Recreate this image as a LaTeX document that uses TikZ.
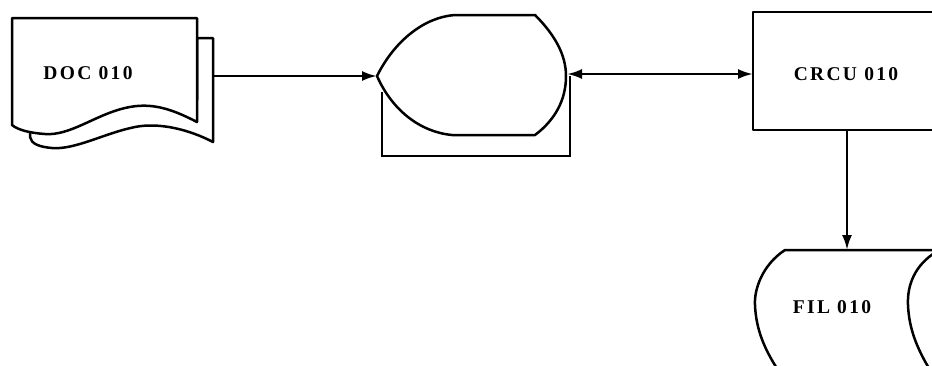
\documentclass[tikz,border=0pt]{standalone}
\usepackage{fontspec}
\setmainfont{Liberation Serif}
\usetikzlibrary{arrows.meta}
\begin{document}
\begin{tikzpicture}[x=1pt,y=-1pt,
  shp/.style={line width=2.5pt,fill=white,line join=round},
  con/.style={line width=2.5pt},
  tip/.style={-{Latex[length=15pt,width=10pt]}},
  lbl/.style={font=\fontsize{19.5}{22}\selectfont\bfseries\addfontfeature{LetterSpace=12}}]
\useasboundingbox (0,0) rectangle (932,365);
\clip (0,0) rectangle (932,365);
% document (two sheets)
\draw[shp] (197,38) -- (213,38) -- (213,142)
  .. controls (190,130) and (160,122) .. (135,127)
  .. controls (105,133) and (75,150) .. (52,148)
  .. controls (40,147) and (31,144) .. (30,137) -- (30,100) -- (197,100) -- cycle;
\draw[shp] (12,18) -- (197,18) -- (197,122)
  .. controls (170,108) and (150,102) .. (125,108)
  .. controls (95,115) and (70,136) .. (45,134)
  .. controls (30,133) and (18,130) .. (12,125) -- cycle;
\node[lbl] (doc) at (88,73) {DOC 010};
\coordinate (docout) at (213,76);
% display with offset sheet
\draw[con] (382,92) -- (382,156) -- (570,156) -- (570,76);
\draw[shp] (377,76) .. controls (395,40) and (425,17) .. (455,15) -- (535,15)
  .. controls (555,35) and (566,55) .. (566,76)
  .. controls (566,100) and (555,120) .. (535,135) -- (452,135)
  .. controls (420,132) and (392,110) .. (377,76) -- cycle;
\coordinate (dispin) at (377,76);
\coordinate (dispout) at (567,74);
% CRCU box
\draw[shp] (940,12) -- (753,12) -- (753,130) -- (940,130);
\coordinate (crcuin) at (753,74);
\coordinate (crcuout) at (847,130);
\node[lbl] (crcu) at (846,74) {CRCU 010};
% FIL storage
\draw[shp] (940,250) -- (785,250)
  .. controls (762,265) and (754,290) .. (755,305)
  .. controls (756,330) and (765,350) .. (778,370);
\draw[con] (936,252) .. controls (915,265) and (907,285) .. (908,305)
  .. controls (909,330) and (918,350) .. (930,370);
\coordinate (filin) at (847,250);
\node[lbl] (fil) at (832,307) {FIL 010};
% connectors
\draw[con,tip] (docout) -- (dispin);
\draw[con,{Latex[length=15pt,width=10pt]}-{Latex[length=15pt,width=10pt]}] (dispout) -- (crcuin);
\draw[con,tip] (crcuout) -- (filin);
\end{tikzpicture}
\end{document}
